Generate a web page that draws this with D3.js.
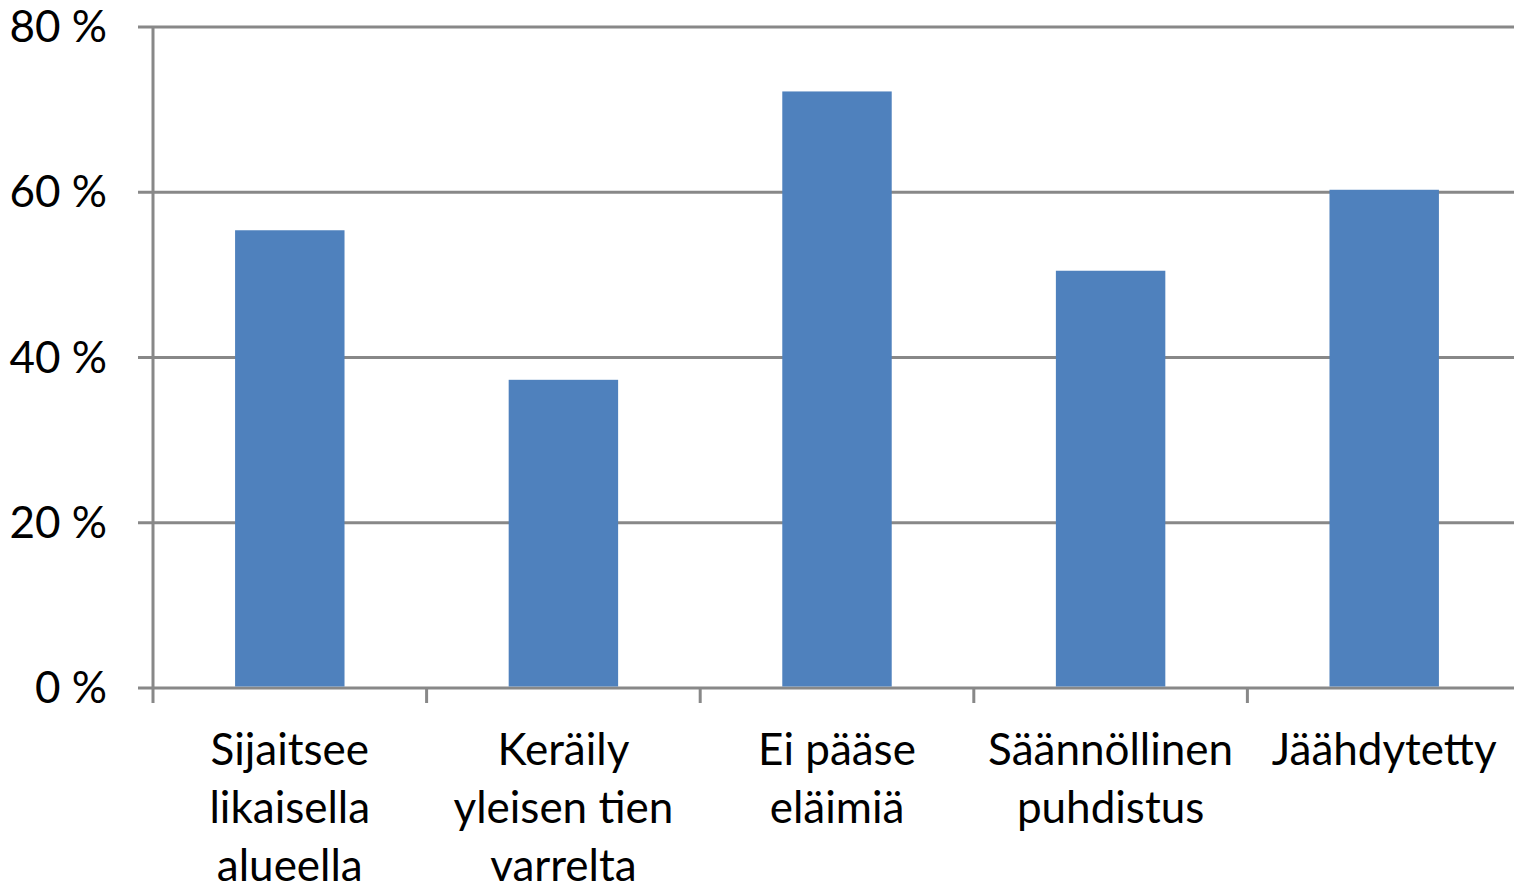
<!DOCTYPE html>
<html><head><meta charset="utf-8">
<script src="https://cdn.jsdelivr.net/npm/d3@7"></script>
<style>body{margin:0;background:#fff}svg{display:block}</style>
</head><body><svg id="c" width="1514" height="888"></svg>
<script>
const categories = [
  ["Sijaitsee","likaisella","alueella"],
  ["Keräily","yleisen tien","varrelta"],
  ["Ei pääse","eläimiä"],
  ["Säännöllinen","puhdistus"],
  ["Jäähdytetty"]
];
const values = [55.4, 37.3, 72.2, 50.5, 60.3];
const yTicks = [0, 20, 40, 60, 80];

const svg = d3.select("#c");
const m = {l:153, r:1521, t:27, b:688};
const font = "Lato, 'Open Sans', sans-serif";
const x = d3.scaleBand().domain(d3.range(categories.length)).range([m.l, m.r]).paddingInner(0.6).paddingOuter(0.3);
const xb = d3.scaleBand().domain(d3.range(categories.length)).range([m.l, m.r]);
const y = d3.scaleLinear().domain([0, 80]).range([m.b, m.t]);

// gridlines
svg.append("g").selectAll("line").data(yTicks).join("line")
  .attr("x1", m.l - 15).attr("x2", 1514).attr("y1", d => y(d)).attr("y2", d => y(d))
  .attr("stroke", "#888").attr("stroke-width", 3);
// y axis line
svg.append("line").attr("x1", m.l).attr("x2", m.l).attr("y1", m.t).attr("y2", m.b + 15)
  .attr("stroke", "#888").attr("stroke-width", 3);
// x ticks
svg.append("g").selectAll("line").data(d3.range(1, categories.length)).join("line")
  .attr("x1", d => xb(d)).attr("x2", d => xb(d)).attr("y1", m.b).attr("y2", m.b + 15)
  .attr("stroke", "#888").attr("stroke-width", 3);

// bars
svg.append("g").selectAll("rect").data(values).join("rect")
  .attr("x", (d, i) => x(i)).attr("width", x.bandwidth())
  .attr("y", d => y(d)).attr("height", d => y(0) - y(d) - 1.5)
  .attr("fill", "#4f81bd");

// y labels
svg.append("g").selectAll("text").data(yTicks).join("text")
  .attr("x", 107).attr("y", d => y(d) + 15).attr("text-anchor", "end")
  .attr("font-family", font).attr("font-size", 44).attr("fill", "#000")
  .text(d => d + " %");

// x labels
const xl = svg.append("g").selectAll("text").data(categories).join("text")
  .attr("x", (d, i) => xb(i) + xb.bandwidth() / 2).attr("y", 765)
  .attr("text-anchor", "middle").attr("font-family", font).attr("font-size", 44).attr("fill", "#000");
xl.selectAll("tspan").data(d => d).join("tspan")
  .attr("x", function(){ return this.parentNode.getAttribute("x"); })
  .attr("dy", (d, i) => i ? 58 : 0).text(d => d);
</script></body></html>
